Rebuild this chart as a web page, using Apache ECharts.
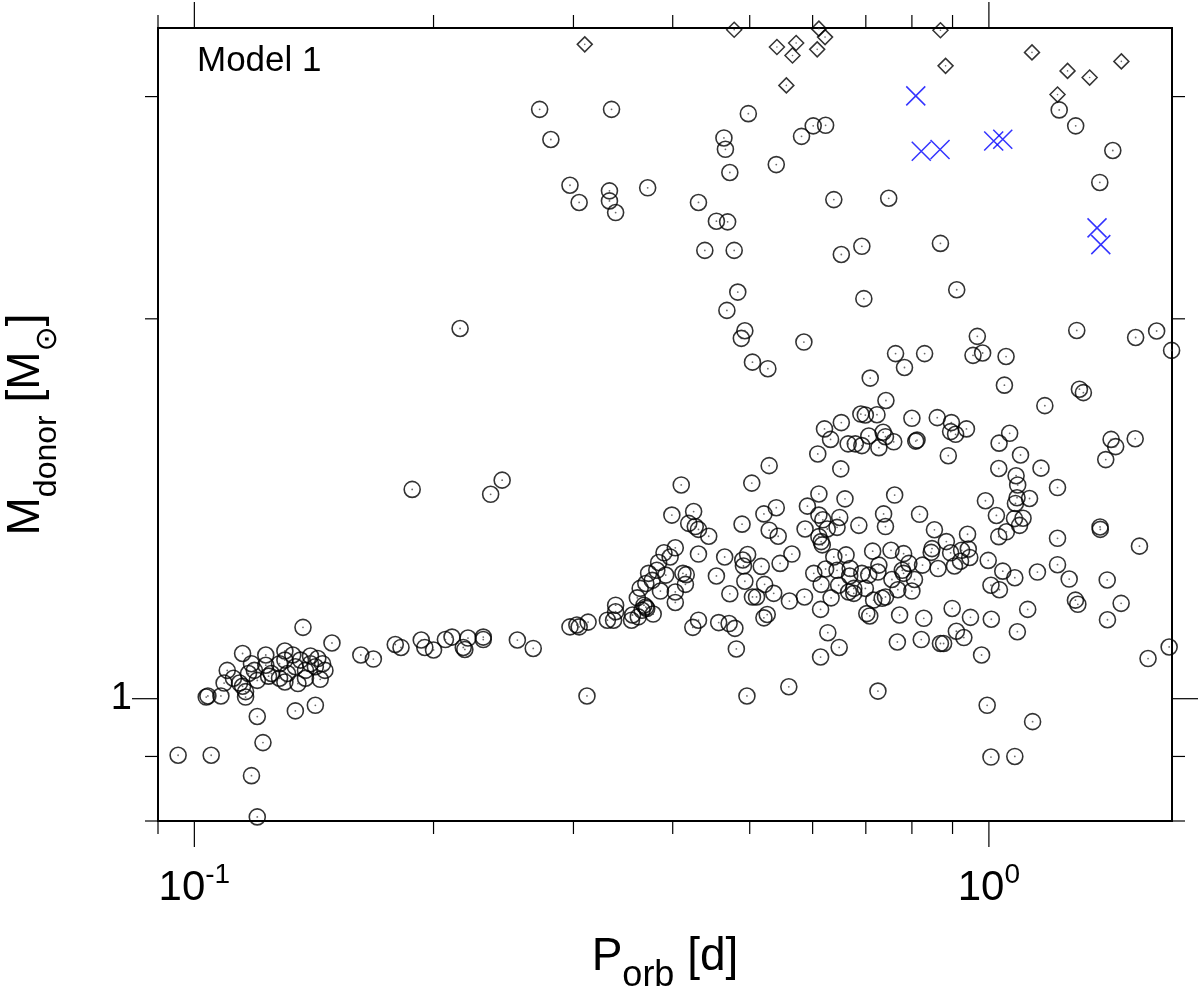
<!DOCTYPE html>
<html>
<head>
<meta charset="utf-8">
<title>Model 1</title>
<script src="https://cdn.jsdelivr.net/npm/echarts@6.0.0/dist/echarts.min.js"></script>
<style>
  html, body { margin: 0; padding: 0; background: #fff; }
  #chart { width: 1200px; height: 1000px; }
</style>
</head>
<body>
<div id="chart"></div>
<script>
var FONT = '"Liberation Sans", Arial, Helvetica, sans-serif';

// axis ranges
var X_MIN = 0.09, X_MAX = 1.7;
var Y_MIN = 0.8, Y_MAX = 3.4;

// tick values (log axes: majors at decades, minors at 2..9 multiples)
var xMajorTicks = [0.1, 1];
var xMinorTicks = [0.09, 0.2, 0.3, 0.4, 0.5, 0.6, 0.7, 0.8, 0.9];
var yMajorTicks = [1];
var yMinorTicks = [0.8, 0.9, 2, 3];

// [P_orb (d), M_donor (Msun)]
var circles = [
  [0.137, 1.139], [0.149, 1.107], [0.115, 1.086], [0.123, 1.083], [0.130, 1.091],
  [0.104, 1.005], [0.1035, 1.003], [0.108, 1.005], [0.109, 1.029], [0.112, 1.038],
  [0.116, 1.013], [0.116, 1.003], [0.115, 1.023], [0.117, 1.047], [0.119, 1.053],
  [0.120, 1.034], [0.123, 1.063], [0.125, 1.047], [0.128, 1.038], [0.128, 1.066],
  [0.130, 1.073], [0.131, 1.047], [0.134, 1.060], [0.135, 1.028], [0.136, 1.073],
  [0.138, 1.053], [0.140, 1.081], [0.142, 1.060], [0.144, 1.036], [0.145, 1.066],
  [0.146, 1.053], [0.143, 1.076], [0.134, 0.978], [0.142, 0.988], [0.120, 0.968],
  [0.122, 0.923], [0.118, 0.869], [0.120, 0.806], [0.0954, 0.902], [0.105, 0.902],
  [0.110, 1.053], [0.114, 1.029], [0.124, 1.042], [0.133, 1.083], [0.140, 1.066],
  [0.138, 1.038], [0.130, 1.031], [0.118, 1.066],
  [0.162, 1.083], [0.168, 1.075], [0.179, 1.104], [0.182, 1.098], [0.193, 1.113],
  [0.195, 1.098], [0.200, 1.093], [0.207, 1.114], [0.211, 1.119], [0.221, 1.117],
  [0.218, 1.098], [0.219, 1.094], [0.231, 1.119], [0.231, 1.114],
  [0.272, 2.931], [0.335, 2.931], [0.281, 2.774], [0.297, 2.552], [0.305, 2.473],
  [0.333, 2.526], [0.333, 2.480], [0.339, 2.428], [0.372, 2.540], [0.431, 2.473],
  [0.454, 2.390], [0.469, 2.387], [0.439, 2.266], [0.478, 2.266], [0.483, 2.100],
  [0.498, 2.908], [0.464, 2.782], [0.466, 2.725], [0.472, 2.612], [0.540, 2.650],
  [0.581, 2.790], [0.601, 2.844], [0.623, 2.847], [0.638, 2.486], [0.652, 2.249],
  [1.226, 2.928], [1.286, 2.844], [1.432, 2.719], [1.379, 2.565], [0.748, 2.492],
  [0.692, 2.283], [0.869, 2.295], [0.911, 2.109],
  [0.216, 1.965], [0.188, 1.465], [0.236, 1.452], [0.244, 1.490],
  [0.468, 2.031], [0.493, 1.957], [0.488, 1.930], [0.585, 1.917], [0.504, 1.848],
  [0.527, 1.826], [0.410, 1.477], [0.503, 1.482], [0.529, 1.530], [0.621, 1.636],
  [0.632, 1.605], [0.652, 1.655], [0.665, 1.592], [0.609, 1.563], [0.651, 1.521],
  [0.611, 1.453], [0.659, 1.440], [0.399, 1.398], [0.425, 1.407], [0.419, 1.377],
  [0.427, 1.369], [0.431, 1.362], [0.444, 1.345], [0.489, 1.375], [0.521, 1.401],
  [0.540, 1.417], [0.529, 1.360], [0.543, 1.345], [0.591, 1.421], [0.611, 1.398],
  [0.618, 1.386], [0.587, 1.363], [0.626, 1.363], [0.644, 1.367], [0.649, 1.392],
  [0.611, 1.344], [0.615, 1.332], [0.617, 1.324],
  [0.696, 2.075], [1.290, 1.958], [1.530, 1.933], [1.626, 1.956], [1.698, 1.888],
  [0.967, 1.937], [0.955, 1.871], [0.982, 1.879], [1.051, 1.867], [0.763, 1.877],
  [0.830, 1.877], [0.783, 1.830], [0.709, 1.795], [1.046, 1.772], [0.742, 1.723],
  [1.300, 1.759], [1.315, 1.748], [1.176, 1.707], [0.690, 1.681], [0.699, 1.678],
  [0.723, 1.679], [0.800, 1.668], [0.861, 1.670], [0.897, 1.655], [0.895, 1.628],
  [0.908, 1.620], [0.937, 1.636], [0.706, 1.615], [0.736, 1.626], [0.741, 1.613],
  [0.759, 1.598], [0.727, 1.581], [0.679, 1.592], [0.692, 1.587], [0.809, 1.600],
  [0.812, 1.603], [0.889, 1.558], [1.062, 1.623], [1.030, 1.594], [1.096, 1.560],
  [1.029, 1.522], [1.163, 1.523], [1.082, 1.502], [1.087, 1.477], [1.220, 1.470],
  [1.425, 1.605], [1.444, 1.584], [1.528, 1.607], [1.403, 1.547], [0.761, 1.450],
  [0.990, 1.435], [1.085, 1.443], [1.125, 1.441], [1.080, 1.428], [0.737, 1.401],
  [0.818, 1.400], [1.022, 1.397], [1.104, 1.390], [1.077, 1.389], [1.093, 1.372],
  [0.686, 1.372], [0.741, 1.369], [0.854, 1.361], [0.940, 1.350], [1.052, 1.356],
  [1.029, 1.344], [1.220, 1.340], [1.380, 1.368], [1.381, 1.362], [1.547, 1.321],
  [0.884, 1.332],
  [0.403, 1.317], [0.390, 1.305], [0.397, 1.295], [0.384, 1.282], [0.382, 1.264],
  [0.373, 1.257], [0.392, 1.253], [0.377, 1.241], [0.370, 1.234], [0.364, 1.223],
  [0.386, 1.217], [0.361, 1.202], [0.403, 1.215], [0.412, 1.257], [0.416, 1.254],
  [0.415, 1.232], [0.403, 1.192], [0.339, 1.186], [0.339, 1.172], [0.368, 1.186],
  [0.370, 1.182], [0.366, 1.175], [0.371, 1.179], [0.378, 1.167], [0.356, 1.165],
  [0.362, 1.161], [0.331, 1.154], [0.337, 1.154], [0.355, 1.154], [0.313, 1.150],
  [0.297, 1.140], [0.305, 1.140], [0.303, 1.144], [0.255, 1.113], [0.267, 1.096],
  [0.312, 1.005], [0.431, 1.302], [0.465, 1.295], [0.454, 1.251], [0.431, 1.154],
  [0.424, 1.139], [0.457, 1.149], [0.471, 1.147], [0.479, 1.137], [0.481, 1.095],
  [0.472, 1.211], [0.497, 1.301], [0.490, 1.288], [0.491, 1.274], [0.517, 1.273],
  [0.493, 1.239], [0.522, 1.232], [0.536, 1.212], [0.504, 1.204], [0.510, 1.204],
  [0.546, 1.280], [0.565, 1.302], [0.561, 1.195], [0.586, 1.204], [0.526, 1.166],
  [0.521, 1.159], [0.496, 1.005], [0.560, 1.022], [0.602, 1.257], [0.615, 1.232],
  [0.623, 1.267], [0.638, 1.295], [0.644, 1.264], [0.661, 1.300], [0.647, 1.230],
  [0.633, 1.202], [0.614, 1.177], [0.627, 1.128], [0.648, 1.098], [0.614, 1.079],
  [0.666, 1.215],
  [0.714, 1.309], [0.753, 1.311], [0.781, 1.303], [0.848, 1.315], [0.846, 1.306],
  [0.895, 1.305], [0.924, 1.311], [0.942, 1.314], [0.946, 1.294], [0.921, 1.285],
  [0.905, 1.274], [0.863, 1.268], [0.825, 1.276], [0.793, 1.280], [0.778, 1.264],
  [0.781, 1.257], [0.806, 1.243], [0.755, 1.243], [0.800, 1.217], [0.768, 1.220],
  [0.741, 1.204], [0.734, 1.201], [0.716, 1.197], [0.727, 1.276], [0.725, 1.260],
  [0.706, 1.253], [0.692, 1.257], [0.669, 1.268], [0.668, 1.251], [0.676, 1.223],
  [0.676, 1.212], [0.699, 1.223], [0.702, 1.168], [0.708, 1.163], [0.772, 1.165],
  [0.828, 1.158], [0.899, 1.179], [0.767, 1.109], [0.822, 1.114], [0.869, 1.106],
  [0.877, 1.106], [0.910, 1.131], [0.930, 1.118], [0.948, 1.160], [1.007, 1.156],
  [0.979, 1.083], [0.725, 1.014], [0.995, 0.988], [1.135, 0.959], [1.006, 0.899],
  [1.078, 0.900], [0.998, 1.287], [1.041, 1.262], [1.078, 1.247], [1.006, 1.230],
  [1.031, 1.220], [1.151, 1.260], [1.220, 1.277], [1.262, 1.244], [1.285, 1.197],
  [1.294, 1.188], [1.119, 1.177], [1.086, 1.130], [1.409, 1.242], [1.467, 1.190],
  [1.410, 1.155], [1.686, 1.099], [1.586, 1.076]
];

var diamonds = [
  [0.310, 3.300], [0.478, 3.389], [0.541, 3.284], [0.572, 3.308], [0.566, 3.234],
  [0.608, 3.270], [0.622, 3.344], [0.611, 3.396], [0.556, 3.062], [0.869, 3.386],
  [0.882, 3.173], [1.133, 3.252], [1.256, 3.144], [1.339, 3.106], [1.468, 3.199],
  [1.220, 3.011]
];

var crosses = [
  [0.809, 3.004], [0.822, 2.715], [0.868, 2.724], [1.014, 2.767], [1.041, 2.775],
  [1.368, 2.361], [1.383, 2.290]
];

function isDecade(v) {
  var l = Math.log10(v);
  return Math.abs(l - Math.round(l)) < 1e-6;
}

function tickData(values, kind, isX) {
  return values.map(function (v) {
    return isX ? [v, Y_MIN, kind] : [X_MIN, v, kind];
  });
}

function renderTick(isX) {
  return function (params, api) {
    var v = isX ? api.value(0) : api.value(1);
    var len = api.value(2) === 2 ? 26 : 13;
    var a = isX ? api.coord([v, Y_MIN]) : api.coord([X_MIN, v]);
    var b = isX ? api.coord([v, Y_MAX]) : api.coord([X_MAX, v]);
    var st = { stroke: '#000', lineWidth: 1.2 };
    var lines = isX ? [
      { type: 'line', shape: { x1: a[0], y1: a[1], x2: a[0], y2: a[1] + len }, style: st },
      { type: 'line', shape: { x1: b[0], y1: b[1], x2: b[0], y2: b[1] - len }, style: st }
    ] : [
      { type: 'line', shape: { x1: a[0], y1: a[1], x2: a[0] - len, y2: a[1] }, style: st },
      { type: 'line', shape: { x1: b[0], y1: b[1], x2: b[0] + len, y2: b[1] }, style: st }
    ];
    return { type: 'group', children: lines };
  };
}

var myChart = echarts.init(document.getElementById('chart'), null, { renderer: 'canvas' });

var option = {
  backgroundColor: '#fff',
  animation: false,
  grid: {
    left: 158,
    right: 28,
    top: 28,
    bottom: 179,
    show: true,
    borderColor: '#000',
    borderWidth: 2,
    backgroundColor: 'transparent',
    outerBoundsMode: 'none'
  },
  graphic: [{
    type: 'text',
    left: 197,
    top: 44,
    style: { text: 'Model 1', font: '35px ' + FONT, fill: '#000' }
  }],
  xAxis: {
    type: 'log',
    logBase: 10,
    min: X_MIN,
    max: X_MAX,
    axisLine: { show: false },
    axisTick: { show: false },
    splitLine: { show: false },
    axisLabel: {
      show: true,
      margin: 40,
      hideOverlap: false,
      formatter: function (v) {
        if (!isDecade(v)) return '';
        return '{b|10}{s|' + Math.round(Math.log10(v)) + '}';
      },
      rich: {
        b: { fontSize: 42, lineHeight: 54, fontFamily: FONT, color: '#000' },
        s: { fontSize: 28, lineHeight: 28, verticalAlign: 'top', fontFamily: FONT, color: '#000' }
      }
    },
    name: '{p|P}{sub|orb}{p| [d]}',
    nameLocation: 'middle',
    nameGap: 99,
    nameMoveOverlap: false,
    nameTextStyle: {
      rich: {
        p: { fontSize: 46, lineHeight: 74, fontFamily: FONT, color: '#000' },
        sub: { fontSize: 36, lineHeight: 36, verticalAlign: 'bottom', fontFamily: FONT, color: '#000' }
      }
    }
  },
  yAxis: {
    type: 'log',
    logBase: 10,
    min: Y_MIN,
    max: Y_MAX,
    axisLine: { show: false },
    axisTick: { show: false },
    splitLine: { show: false },
    axisLabel: {
      show: true,
      margin: 26,
      hideOverlap: false,
      fontSize: 38,
      fontFamily: FONT,
      color: '#000',
      formatter: function (v) {
        return isDecade(v) ? String(Math.round(v)) : '';
      }
    },
    name: '{m|M}{d|donor}{m| [M}{o|\u2299}{m|]}',
    nameLocation: 'middle',
    nameGap: 95,
    nameMoveOverlap: false,
    nameTextStyle: {
      rich: {
        m: { fontSize: 46, lineHeight: 74, fontFamily: FONT, color: '#000' },
        d: { fontSize: 32, lineHeight: 52, verticalAlign: 'bottom', fontFamily: FONT, color: '#000' },
        o: { fontSize: 30, lineHeight: 42, verticalAlign: 'bottom', fontFamily: '"DejaVu Sans", sans-serif', color: '#000' }
      }
    }
  },
  series: [
    {
      name: 'x ticks',
      type: 'custom',
      silent: true,
      clip: false,
      renderItem: renderTick(true),
      data: tickData(xMajorTicks, 2, true).concat(tickData(xMinorTicks, 1, true))
    },
    {
      name: 'y ticks',
      type: 'custom',
      silent: true,
      clip: false,
      renderItem: renderTick(false),
      data: tickData(yMajorTicks, 2, false).concat(tickData(yMinorTicks, 1, false))
    },
    {
      name: 'circles',
      type: 'scatter',
      symbol: 'circle',
      symbolSize: 16,
      itemStyle: { color: 'rgba(0,0,0,0)', borderColor: '#000', borderWidth: 1.6 },
      data: circles
    },
    {
      name: 'circle centres',
      type: 'scatter',
      symbol: 'circle',
      symbolSize: 1.8,
      silent: true,
      itemStyle: { color: '#444' },
      data: circles
    },
    {
      name: 'diamonds',
      type: 'scatter',
      symbol: 'diamond',
      symbolSize: [15, 15],
      itemStyle: { color: 'rgba(0,0,0,0)', borderColor: '#000', borderWidth: 1.5 },
      data: diamonds
    },
    {
      name: 'diamond centres',
      type: 'scatter',
      symbol: 'circle',
      symbolSize: 1.6,
      silent: true,
      itemStyle: { color: '#444' },
      data: diamonds
    },
    {
      name: 'crosses',
      type: 'scatter',
      symbol: 'path://M0,0L20,20M20,0L0,20',
      symbolSize: 19,
      itemStyle: { color: 'none', borderColor: '#0000ff', borderWidth: 1.5 },
      data: crosses
    }
  ]
};

myChart.setOption(option);
window.addEventListener('resize', function () {
  myChart.resize();
});
</script>
</body>
</html>
